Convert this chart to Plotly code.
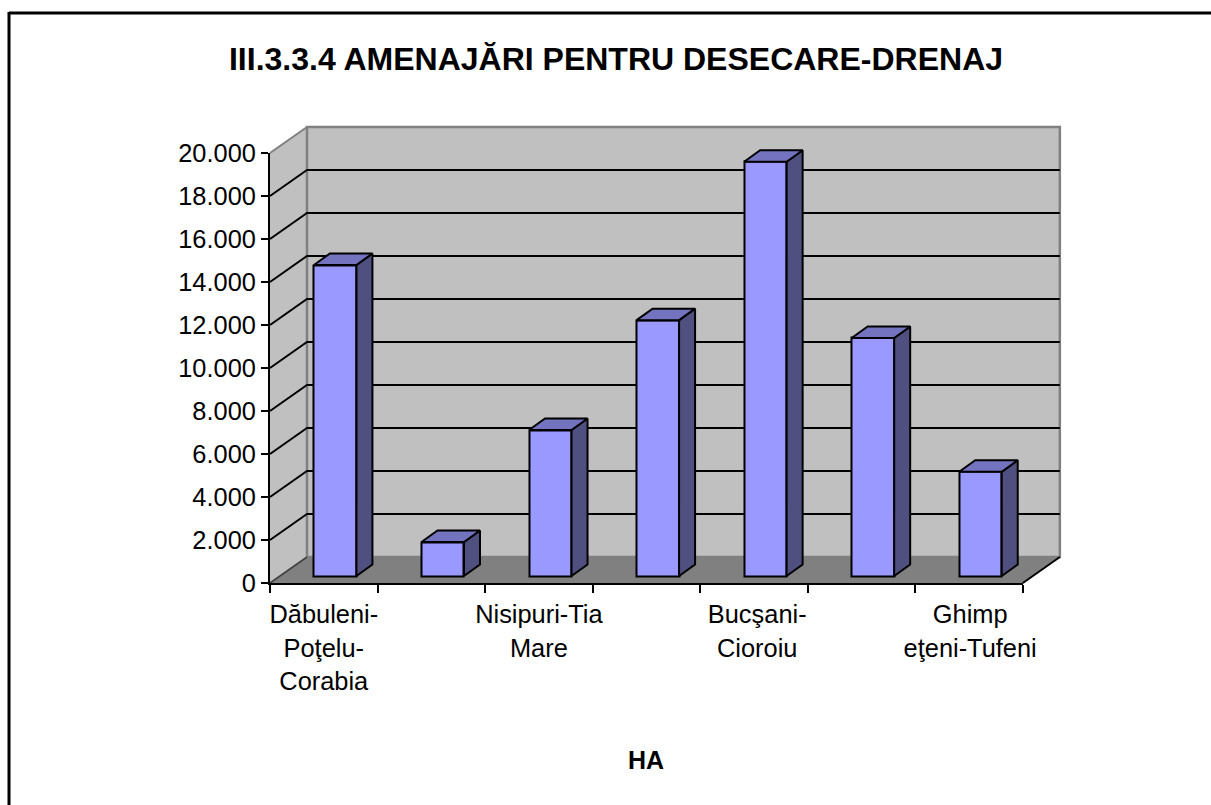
import plotly.graph_objects as go

# ---- data ----
categories = ["Dăbuleni-<br>Poţelu-<br>Corabia", "Nisipuri-Tia<br>Mare",
              "Bucşani-<br>Cioroiu", "Ghimp<br>eţeni-Tufeni"]
category_positions = [0.5, 2.5, 4.53, 6.51]
bar_values = [14465, 1580, 6790, 11900, 19270, 11070, 4850]
value_ticks = [0, 2000, 4000, 6000, 8000, 10000, 12000, 14000, 16000, 18000, 20000]
value_labels = ["0", "2.000", "4.000", "6.000", "8.000", "10.000", "12.000", "14.000", "16.000", "18.000", "20.000"]
title_text = "III.3.3.4 AMENAJĂRI PENTRU DESECARE-DRENAJ"
axis_title = "HA"

# ---- layout geometry (pixels) ----
W, H = 1211, 805
X0, PX_CAT = 270.0, 107.55
Y0, PX_VAL = 583.0, 430.0 / 20000
N = len(bar_values)
VMAX = value_ticks[-1]
DX, DY = 37 / PX_CAT, 26 / PX_VAL            # wall depth, in axis units
BDX, BDY = 16 / PX_CAT, 11.5 / PX_VAL        # bar depth
OFFX, OFFY = 11.4 / PX_CAT, 7 / PX_VAL       # bar offset from the front plane
BARW = 42.5 / PX_CAT

# extended (hidden) axes share the same scale
xr = [-0.2, N + 0.6]
yr = [-1000, 23000]
def xdom(a, b):
    return [(X0 + a * PX_CAT) / W, (X0 + b * PX_CAT) / W]
def ydom(a, b):
    return [(H - (Y0 - a * PX_VAL)) / H, (H - (Y0 - b * PX_VAL)) / H]

WALL, FLOOR, EDGE = "#C0C0C0", "#808080", "#808080"
FRONT, TOP, SIDE = "#9999FF", "#7373BF", "#4F4F80"

fig = go.Figure()

def poly(xs, ys, fill, line, lw, ax=("x", "y")):
    fig.add_trace(go.Scatter(x=xs, y=ys, mode="lines", fill="toself" if fill else None,
                             fillcolor=fill, line=dict(color=line, width=lw),
                             hoverinfo="skip", showlegend=False, xaxis=ax[0], yaxis=ax[1]))

# walls and floor
poly([0, DX, N + DX, N], [0, DY, DY, 0], FLOOR, FLOOR, 1)
poly([0, DX, DX, 0, 0], [0, DY, VMAX + DY, VMAX, 0], WALL, WALL, 1)
poly([DX, N + DX, N + DX, DX, DX], [DY, DY, VMAX + DY, VMAX + DY, DY], WALL, EDGE, 2.5)
# gridlines
for v in value_ticks[1:-1]:
    poly([0, DX, N + DX], [v, v + DY, v + DY], None, "#000000", 2)
poly([0, DX], [VMAX, VMAX + DY], None, EDGE, 2)
poly([0, DX], [0, DY], None, "#404040", 1.6)
poly([N, N + DX], [0, DY], None, "#000000", 2)

# bars
centers = [i + 0.5 + OFFX for i in range(N)]
fig.add_trace(go.Bar(x=centers, y=bar_values, base=[OFFY] * N, width=[BARW] * N,
                     marker=dict(color=FRONT, line=dict(color="#000000", width=2)),
                     hoverinfo="y", showlegend=False, xaxis="x2", yaxis="y2"))
for c, v in zip(centers, bar_values):
    l, r = c - BARW / 2, c + BARW / 2
    t = v + OFFY
    poly([r, r + BDX, r + BDX, r, r], [OFFY, OFFY + BDY, t + BDY, t, OFFY], SIDE, "#000000", 2, ("x2", "y2"))
    poly([l, l + BDX, r + BDX, r, l], [t, t + BDY, t + BDY, t, t], TOP, "#000000", 2, ("x2", "y2"))

# true axes (drawn last)
fig.add_trace(go.Scatter(x=[0, N], y=[0, VMAX], mode="none", hoverinfo="skip", showlegend=False,
                         xaxis="x3", yaxis="y3"))

hidden = dict(visible=False, fixedrange=True)
FS = 25.4
fig.update_layout(
    width=W, height=H, margin=dict(l=0, r=0, t=0, b=0, autoexpand=False),
    paper_bgcolor="#FFFFFF", plot_bgcolor="rgba(0,0,0,0)",
    font=dict(family="Liberation Sans, Arial, sans-serif", color="#000000", size=FS),
    showlegend=False, bargap=0,
    title=dict(text="<b>" + title_text + "</b>", x=616 / W, y=1 - 59 / H, xanchor="center", yanchor="middle",
               font=dict(size=32, color="#000000")),
    xaxis=dict(domain=xdom(*xr), range=xr, anchor="y", **hidden),
    yaxis=dict(domain=ydom(*yr), range=yr, anchor="x", **hidden),
    xaxis2=dict(domain=xdom(*xr), range=xr, anchor="y2", **hidden),
    yaxis2=dict(domain=ydom(*yr), range=yr, anchor="x2", **hidden),
    xaxis3=dict(domain=xdom(0, N), range=[0, N], anchor="y3", showline=True, linecolor="#000000", linewidth=2,
                showgrid=False, zeroline=False, fixedrange=True,
                tickmode="array", tickvals=category_positions, ticktext=categories,
                ticks="", ticklen=0, tickangle=0, tickfont=dict(size=FS), ticklabelstandoff=8,
                minor=dict(ticks="outside", ticklen=8, tickwidth=2, tickcolor="#000000",
                           tickmode="array", tickvals=list(range(N + 1)), showgrid=False)),
    yaxis3=dict(domain=ydom(0, VMAX), range=[0, VMAX], anchor="x3", showline=True, linecolor="#000000", linewidth=2,
                showgrid=False, zeroline=False, fixedrange=True,
                tickmode="array", tickvals=value_ticks, ticktext=value_labels,
                ticks="outside", ticklen=7, tickwidth=2, tickcolor="#000000", tickfont=dict(size=FS)),
    annotations=[dict(text="<b>" + axis_title + "</b>", x=645.5 / W, y=1 - 760 / H, xref="paper", yref="paper",
                      showarrow=False, xanchor="center", yanchor="middle", font=dict(size=25))],
    shapes=[
        dict(type="line", xref="paper", yref="paper", x0=9 / W, x1=9 / W, y0=0, y1=1 - 12 / H, line=dict(color="#000000", width=3)),
        dict(type="line", xref="paper", yref="paper", x0=9 / W, x1=1, y0=1 - 13 / H, y1=1 - 13 / H, line=dict(color="#000000", width=3)),
    ],
)
fig.write_html("out.html", config=dict(displayModeBar=False), post_script="document.body.style.margin='0';")
